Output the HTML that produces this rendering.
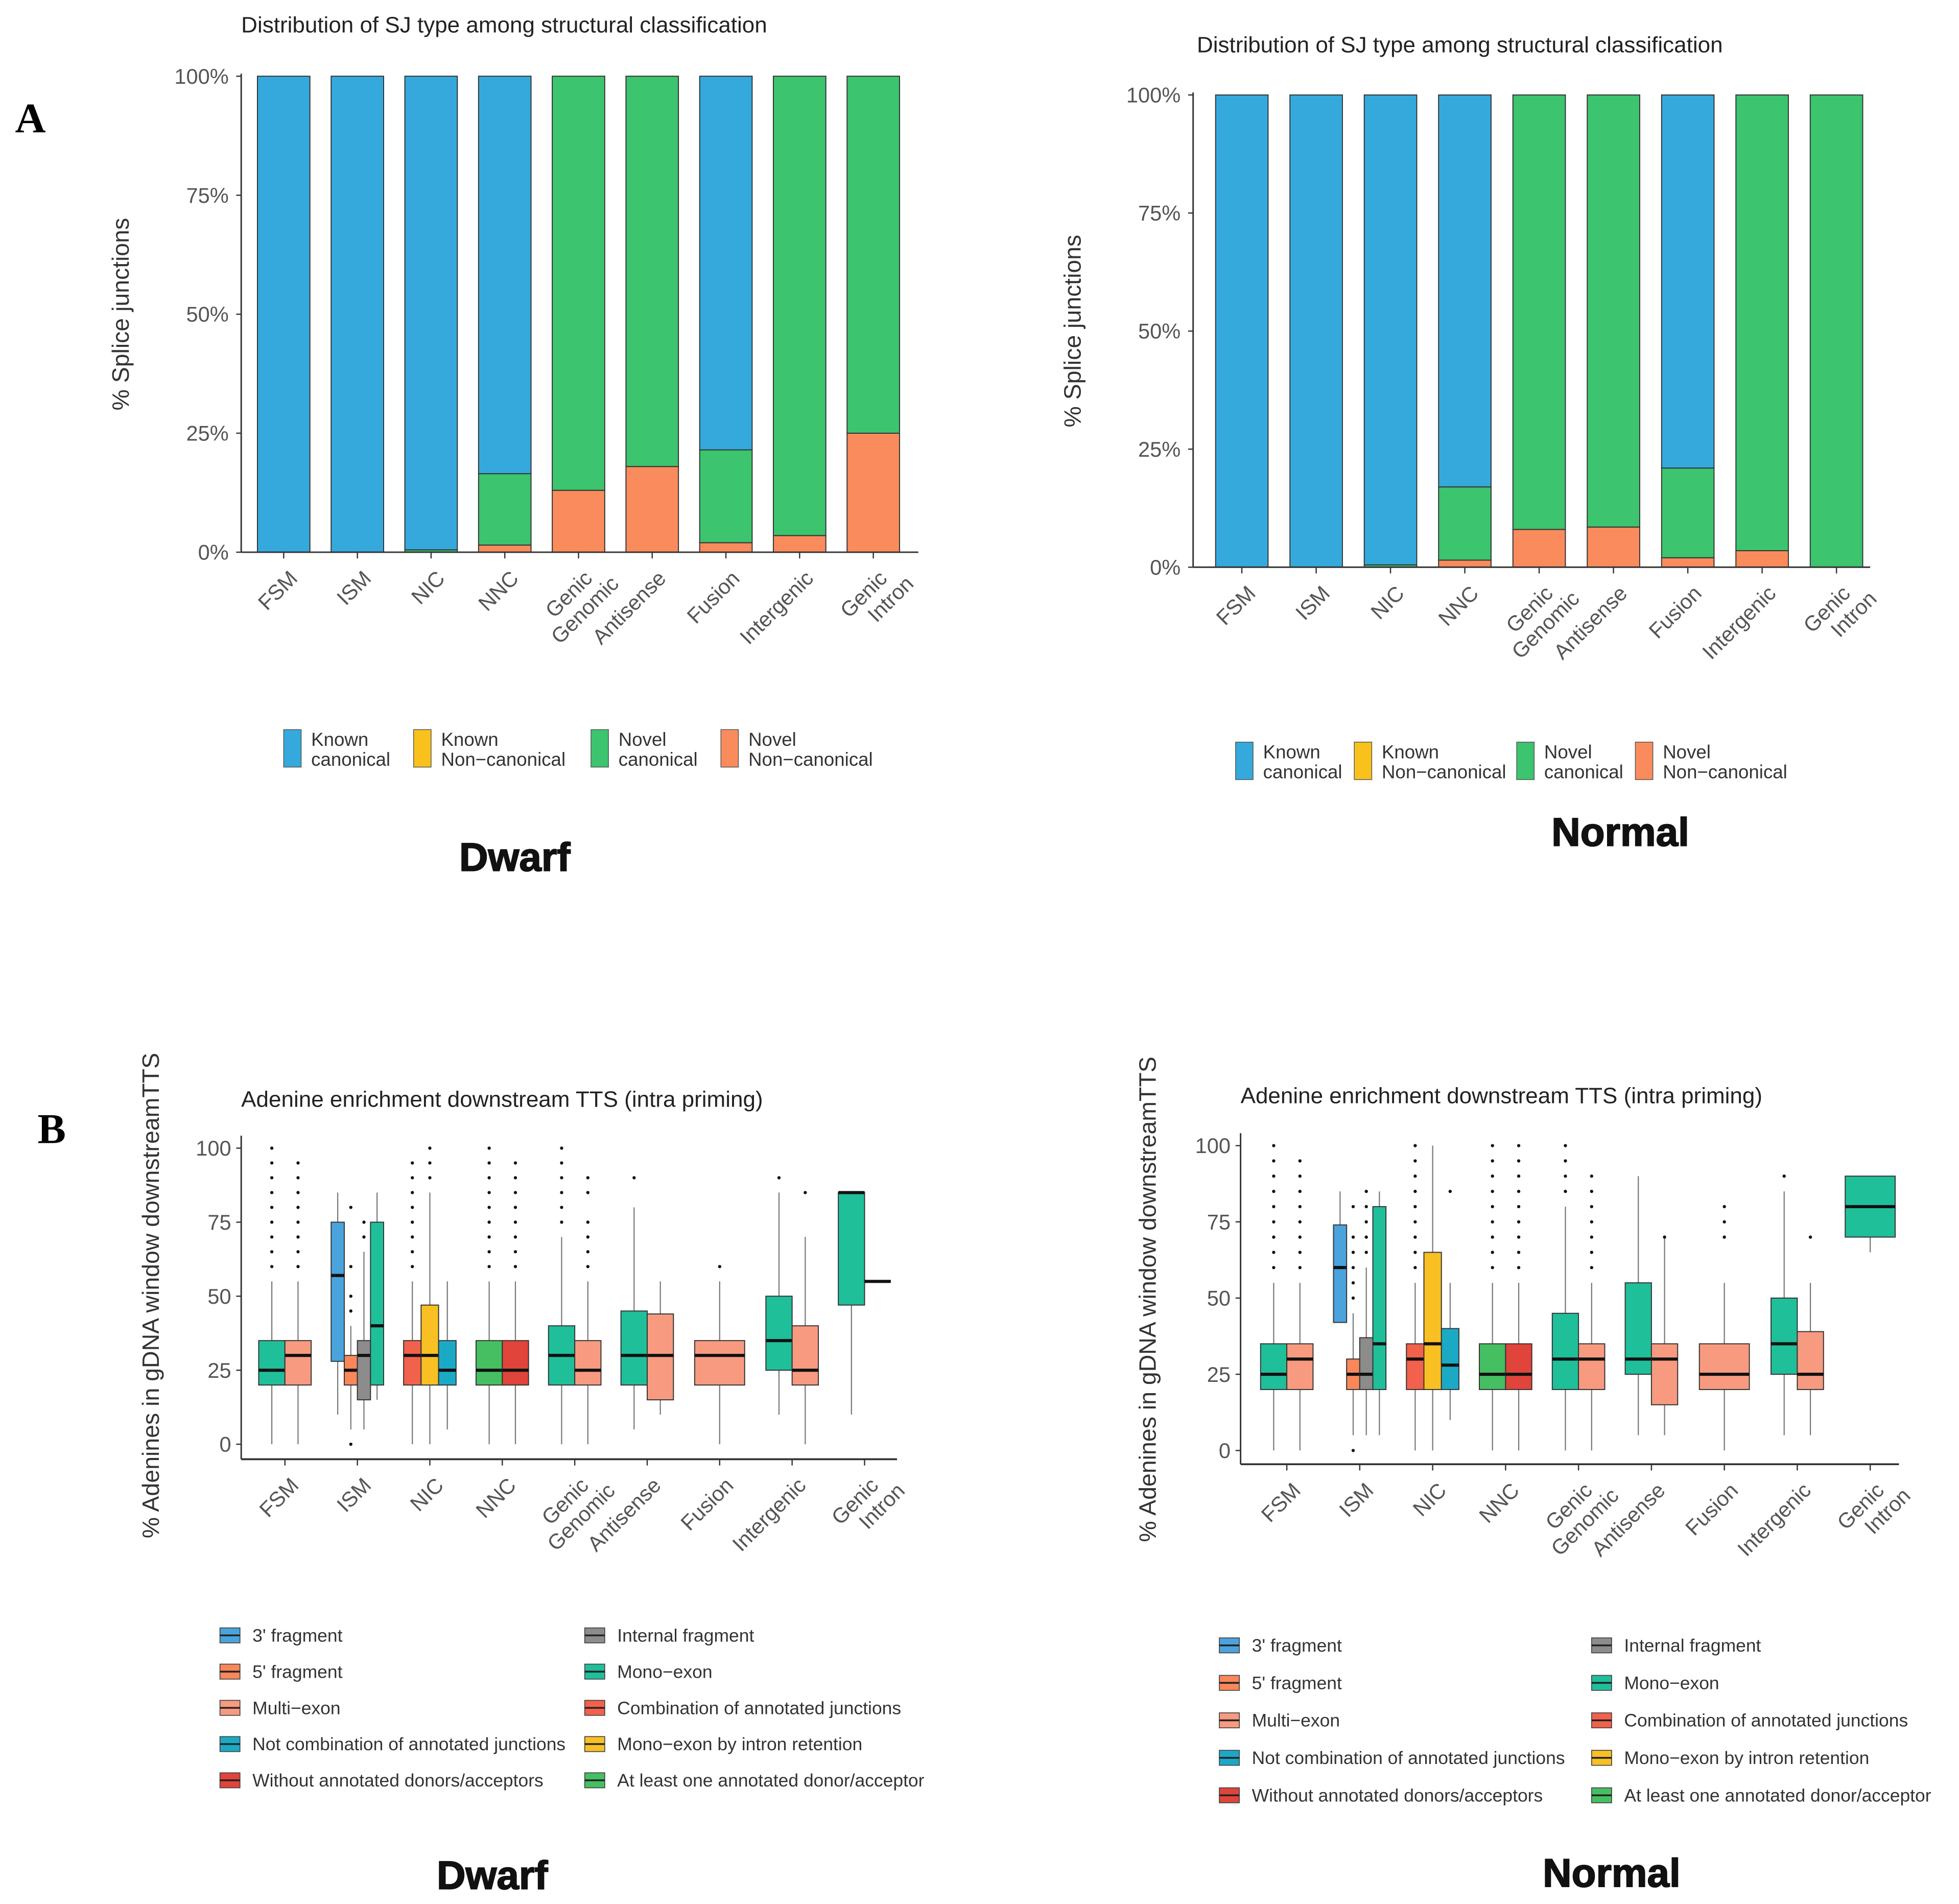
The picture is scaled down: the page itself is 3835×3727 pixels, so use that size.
<!DOCTYPE html>
<html><head><meta charset="utf-8"><style>
html,body{margin:0;padding:0;background:#fff}
svg{display:block;font-family:"Liberation Sans",sans-serif}
</style></head><body>
<svg id="s" width="3835" height="3727" viewBox="0 0 1568 1524" xmlns="http://www.w3.org/2000/svg">
<text x="12" y="106" font-family="Liberation Serif" font-weight="bold" font-size="34">A</text>
<text x="30" y="915" font-family="Liberation Serif" font-weight="bold" font-size="34">B</text>
</svg>
<script>
const NS="http://www.w3.org/2000/svg";
const svg=document.getElementById('s');
function el(tag,attrs,parent,txt){const e=document.createElementNS(NS,tag);for(const k in attrs)e.setAttribute(k,attrs[k]);if(txt!==undefined)e.textContent=txt;(parent||svg).appendChild(e);return e;}

// ---------- Panel A data ----------
const catsA=["FSM","ISM","NIC","NNC","Genic\nGenomic","Antisense","Fusion","Intergenic","Genic\nIntron"];
const dwarfNovelNonCanon=[0,0,0,1.5,13,18,2,3.5,25];
const dwarfNovelCanon=[0,0,0.5,15,87,82,19.5,96.5,75];
const dwarfKnownNonCanon=[0,0,0,0,0,0,0,0,0];
const dwarfKnownCanon=[100,100,99.5,83.5,0,0,78.5,0,0];
const normalNovelNonCanon=[0,0,0,1.5,8,8.5,2,3.5,0];
const normalNovelCanon=[0,0,0.5,15.5,92,91.5,19,96.5,100];
const normalKnownNonCanon=[0,0,0,0,0,0,0,0,0];
const normalKnownCanon=[100,100,99.5,83,0,0,79,0,0];
const pctTicks=[0,25,50,75,100];
const colA={nn:"#f98b5c",nc:"#3cc46e",kn:"#f9c11b",kc:"#35a9dc"};

function stackChart(o){
  const g=el('g',{},svg);
  const y=v=>o.y0-(o.y0-o.y1)*v/100;
  const step=(o.xc1-o.xc0)/(catsA.length-1);
  const x=i=>o.xc0+step*i;
  el('text',{x:o.titleX,y:o.titleY,'font-size':18,fill:'#222'},g,"Distribution of SJ type among structural classification");
  pctTicks.forEach(t=>{
    const tt=el('text',{x:o.x0-10,y:y(t)+6,'font-size':17,fill:'#555','text-anchor':'end'},g,t+"%");
    
    el('line',{x1:o.x0-4,x2:o.x0,y1:y(t),y2:y(t),stroke:'#333'},g);
  });
  const yt=el('text',{transform:`translate(${o.x0-90},${(o.y0+o.y1)/2}) rotate(-90)`,'font-size':19,fill:'#333','text-anchor':'middle'},g,"% Splice junctions");
  
  catsA.forEach((c,i)=>{
    let acc=0;
    [[o.nn,colA.nn,'novel-noncanonical'],[o.nc,colA.nc,'novel-canonical'],[o.kn,colA.kn,'known-noncanonical'],[o.kc,colA.kc,'known-canonical']].forEach(([arr,col,nm])=>{
      const v=arr[i];if(v<=0)return;
      const r=el('rect',{x:x(i)-21,y:y(acc+v),width:42,height:y(acc)-y(acc+v),fill:col,stroke:'#333','stroke-width':0.8},g);
      
      
      acc+=v;
    });
    el('line',{x1:x(i),x2:x(i),y1:o.y0,y2:o.y0+5,stroke:'#333'},g);
    const lines=c.split("\n");
    const lt=el('text',{transform:`translate(${x(i)+12},${o.y0+22}) rotate(-45)`,'font-size':17,fill:'#555','text-anchor':'end'},g);
    
    lines.forEach((l,k)=>el('tspan',{x:k?12:0,dy:k?18:0},lt,l));
  });
  el('line',{x1:o.x0,x2:o.x0,y1:o.y1-2,y2:o.y0,stroke:'#333','stroke-width':1.2},g);
  el('line',{x1:o.x0,x2:o.x1,y1:o.y0,y2:o.y0,stroke:'#333','stroke-width':1.2},g);
  const items=[["Known","canonical",colA.kc],["Known","Non\u2212canonical",colA.kn],["Novel","canonical",colA.nc],["Novel","Non\u2212canonical",colA.nn]];
  let lx=o.legX;
  items.forEach((it,k)=>{
    const lg=el('g',{},g);
    el('rect',{x:lx,y:o.legY,width:14,height:30,fill:it[2],stroke:'#555','stroke-width':0.6},lg);
    el('text',{x:lx+22,y:o.legY+13,'font-size':15,fill:'#333'},lg,it[0]);
    el('text',{x:lx+22,y:o.legY+29,'font-size':15,fill:'#333'},lg,it[1]);
    lx+=o.legGap[k];
  });
  const bt=el('text',{x:o.nameX,y:o.nameY,'font-size':32,'font-weight':'bold','text-anchor':'middle',fill:'#111',stroke:'#111','stroke-width':0.8},g,o.label);
  
}
stackChart({name:'dwarf-sj-chart',x0:193,x1:735,xc0:227,xc1:699,y0:442,y1:61,titleX:193,titleY:26,nn:dwarfNovelNonCanon,nc:dwarfNovelCanon,kn:dwarfKnownNonCanon,kc:dwarfKnownCanon,legX:227,legY:584,legGap:[104,142,104],label:"Dwarf",nameX:412,nameY:697});
stackChart({name:'normal-sj-chart',x0:955,x1:1497,xc0:994,xc1:1470,y0:454,y1:76,titleX:958,titleY:42,nn:normalNovelNonCanon,nc:normalNovelCanon,kn:normalKnownNonCanon,kc:normalKnownCanon,legX:989,legY:594,legGap:[95,130,95],label:"Normal",nameX:1297,nameY:677});

// ---------- Panel B data ----------
const catsB=["FSM","ISM","NIC","NNC","Genic\nGenomic","Antisense","Fusion","Intergenic","Genic\nIntron"];
const subtypeNames=["3' fragment","5' fragment","Multi\u2212exon","Not combination of annotated junctions","Without annotated donors/acceptors","Internal fragment","Mono\u2212exon","Combination of annotated junctions","Mono\u2212exon by intron retention","At least one annotated donor/acceptor"];
const subtypeColors=["#4aa3dc","#f8875a","#f79a80","#1aaac6","#e0443a","#8c8c8c","#1fbf9a","#f2614c","#f8c022","#45bf62"];
const advTicks=[0,25,50,75,100];
const dwarfBoxes=[
 [0,6,20,25,35,0,55],[0,2,20,30,35,0,55],
 [1,0,28,57,75,10,85],[1,1,20,25,30,5,40],[1,5,15,30,35,5,65],[1,6,20,40,75,15,85],
 [2,7,20,30,35,0,55],[2,8,20,30,47,0,85],[2,3,20,25,35,5,55],
 [3,9,20,25,35,0,55],[3,4,20,25,35,0,55],
 [4,6,20,30,40,0,70],[4,2,20,25,35,0,55],
 [5,6,20,30,45,5,80],[5,2,15,30,44,10,55],
 [6,2,20,30,35,0,55],
 [7,6,25,35,50,10,85],[7,2,20,25,40,0,70],
 [8,6,47,85,85,10,85],[8,2,55,55,55,55,55]
];
const dwarfOutliers=[
 [0,[60,65,70,75,80,85,90,95,100]],[1,[60,65,70,75,80,85,90,95]],[3,[0,45,50,60,80]],[4,[70,75]],
 [6,[60,65,70,75,80,85,90,95]],[7,[90,95,100]],[9,[60,65,70,75,80,85,90,95,100]],[10,[60,65,70,75,80,85,90,95]],
 [11,[75,80,85,90,95,100]],[12,[60,65,70,75,85,90]],[13,[90]],[15,[60]],[16,[90]],[17,[85]]
];
const normalBoxes=[
 [0,6,20,25,35,0,55],[0,2,20,30,35,0,55],
 [1,0,42,60,74,42,85],[1,1,20,25,30,5,45],[1,5,20,25,37,5,60],[1,6,20,35,80,5,85],
 [2,7,20,30,35,0,55],[2,8,20,35,65,0,100],[2,3,20,28,40,10,55],
 [3,9,20,25,35,0,55],[3,4,20,25,35,0,55],
 [4,6,20,30,45,0,80],[4,2,20,30,35,0,55],
 [5,6,25,30,55,5,90],[5,2,15,30,35,5,70],
 [6,2,20,25,35,0,55],
 [7,6,25,35,50,5,85],[7,2,20,25,39,5,55],
 [8,6,70,80,90,65,90]
];
const normalOutliers=[
 [0,[60,65,70,75,80,85,90,95,100]],[1,[60,65,70,75,80,85,90,95]],[3,[0,50,55,60,65,70,80]],[4,[65,70,75,80,85]],
 [6,[60,65,70,75,80,85,90,95,100]],[8,[85]],[9,[60,65,70,75,80,85,90,95,100]],[10,[60,65,70,75,80,85,90,95,100]],
 [11,[85,90,95,100]],[12,[60,65,70,75,80,85,90]],[14,[70]],[15,[70,75,80]],[16,[90]],[17,[70]]
];

function boxChart(o){
  const g=el('g',{},svg);
  const y=v=>o.y0-(o.y0-o.y1)*v/100;
  const step=(o.xc1-o.xc0)/(catsB.length-1);
  const x=i=>o.xc0+step*i;
  el('text',{x:o.titleX,y:o.titleY,'font-size':18,fill:'#222'},g,"Adenine enrichment downstream TTS (intra priming)");
  advTicks.forEach(t=>{
    el('text',{x:o.ax-8,y:y(t)+6,'font-size':17,fill:'#555','text-anchor':'end'},g,String(t));
    el('line',{x1:o.ax-4,x2:o.ax,y1:y(t),y2:y(t),stroke:'#333'},g);
  });
  const yt=el('text',{transform:`translate(${o.ytX},${o.ytY}) rotate(-90)`,'font-size':19,fill:'#333','text-anchor':'middle'},g,"% Adenines in gDNA window downstreamTTS");
  
  const counts={},idx={};
  o.boxes.forEach(b=>counts[b[0]]=(counts[b[0]]||0)+1);
  const centers=[];
  o.boxes.forEach((b,k)=>{
    const n=counts[b[0]];const gw=n===1?40:42;const w=gw/n;
    idx[b[0]]=(idx[b[0]]||0);
    const cx=x(b[0])+(idx[b[0]]-(n-1)/2)*w;idx[b[0]]++;
    centers.push(cx);
    const bg=el('g',{},g);
    el('line',{x1:cx,x2:cx,y1:y(b[5]),y2:y(b[6]),stroke:'#777','stroke-width':0.9},bg);
    if(b[4]>b[2]) el('rect',{x:cx-w/2,y:y(b[4]),width:w,height:y(b[2])-y(b[4]),fill:subtypeColors[b[1]],stroke:'#333','stroke-width':0.8},bg);
    el('line',{x1:cx-w/2,x2:cx+w/2,y1:y(b[3]),y2:y(b[3]),stroke:'#111','stroke-width':2.5},bg);
  });
  o.outliers.forEach(([bi,vals])=>{
    vals.forEach(v=>{const c=el('circle',{cx:centers[bi],cy:y(v),r:1.3,fill:'#111'},g);});
  });
  el('line',{x1:o.ax,x2:o.ax,y1:o.y1-10,y2:o.xaY,stroke:'#333','stroke-width':1.2},g);
  el('line',{x1:o.ax,x2:o.axEnd,y1:o.xaY,y2:o.xaY,stroke:'#333','stroke-width':1.5},g);
  catsB.forEach((c,i)=>{
    el('line',{x1:x(i),x2:x(i),y1:o.xaY,y2:o.xaY+5,stroke:'#333'},g);
    const lines=c.split("\n");
    const lt=el('text',{transform:`translate(${x(i)+12},${o.xaY+22}) rotate(-45)`,'font-size':17,fill:'#555','text-anchor':'end'},g);
    
    lines.forEach((l,k)=>el('tspan',{x:k?12:0,dy:k?18:0},lt,l));
  });
  const col1=[0,1,2,3,4],col2=[5,6,7,8,9];
  [col1,col2].forEach((col,ci)=>{
    col.forEach((si,r)=>{
      const lx=o.legX+ci*o.legColGap,ly=o.legY+r*o.legRow;
      const lg=el('g',{},g);
      el('rect',{x:lx,y:ly-6,width:16,height:12,fill:subtypeColors[si],stroke:'#444','stroke-width':0.7},lg);
      el('line',{x1:lx,x2:lx+16,y1:ly,y2:ly,stroke:'#222','stroke-width':1.4},lg);
      el('text',{x:lx+26,y:ly+5,'font-size':14.5,fill:'#333'},lg,subtypeNames[si]);
    });
  });
  el('text',{x:o.nameX,y:o.nameY,'font-size':32,'font-weight':'bold','text-anchor':'middle',fill:'#111',stroke:'#111','stroke-width':0.8},g,o.label);
}
boxChart({name:'dwarf-adenine-chart',ax:193,axEnd:718,xaY:1168,y0:1156,y1:919,xc0:228,xc1:692,titleX:193,titleY:886,ytX:127,ytY:1037,boxes:dwarfBoxes,outliers:dwarfOutliers,legX:176,legY:1309,legRow:29,legColGap:292,label:"Dwarf",nameX:394,nameY:1512});
boxChart({name:'normal-adenine-chart',ax:993,axEnd:1520,xaY:1172,y0:1161,y1:917,xc0:1030,xc1:1497,titleX:993,titleY:883,ytX:925,ytY:1040,boxes:normalBoxes,outliers:normalOutliers,legX:976,legY:1317,legRow:30,legColGap:298,label:"Normal",nameX:1290,nameY:1510});
</script>
</body></html>
